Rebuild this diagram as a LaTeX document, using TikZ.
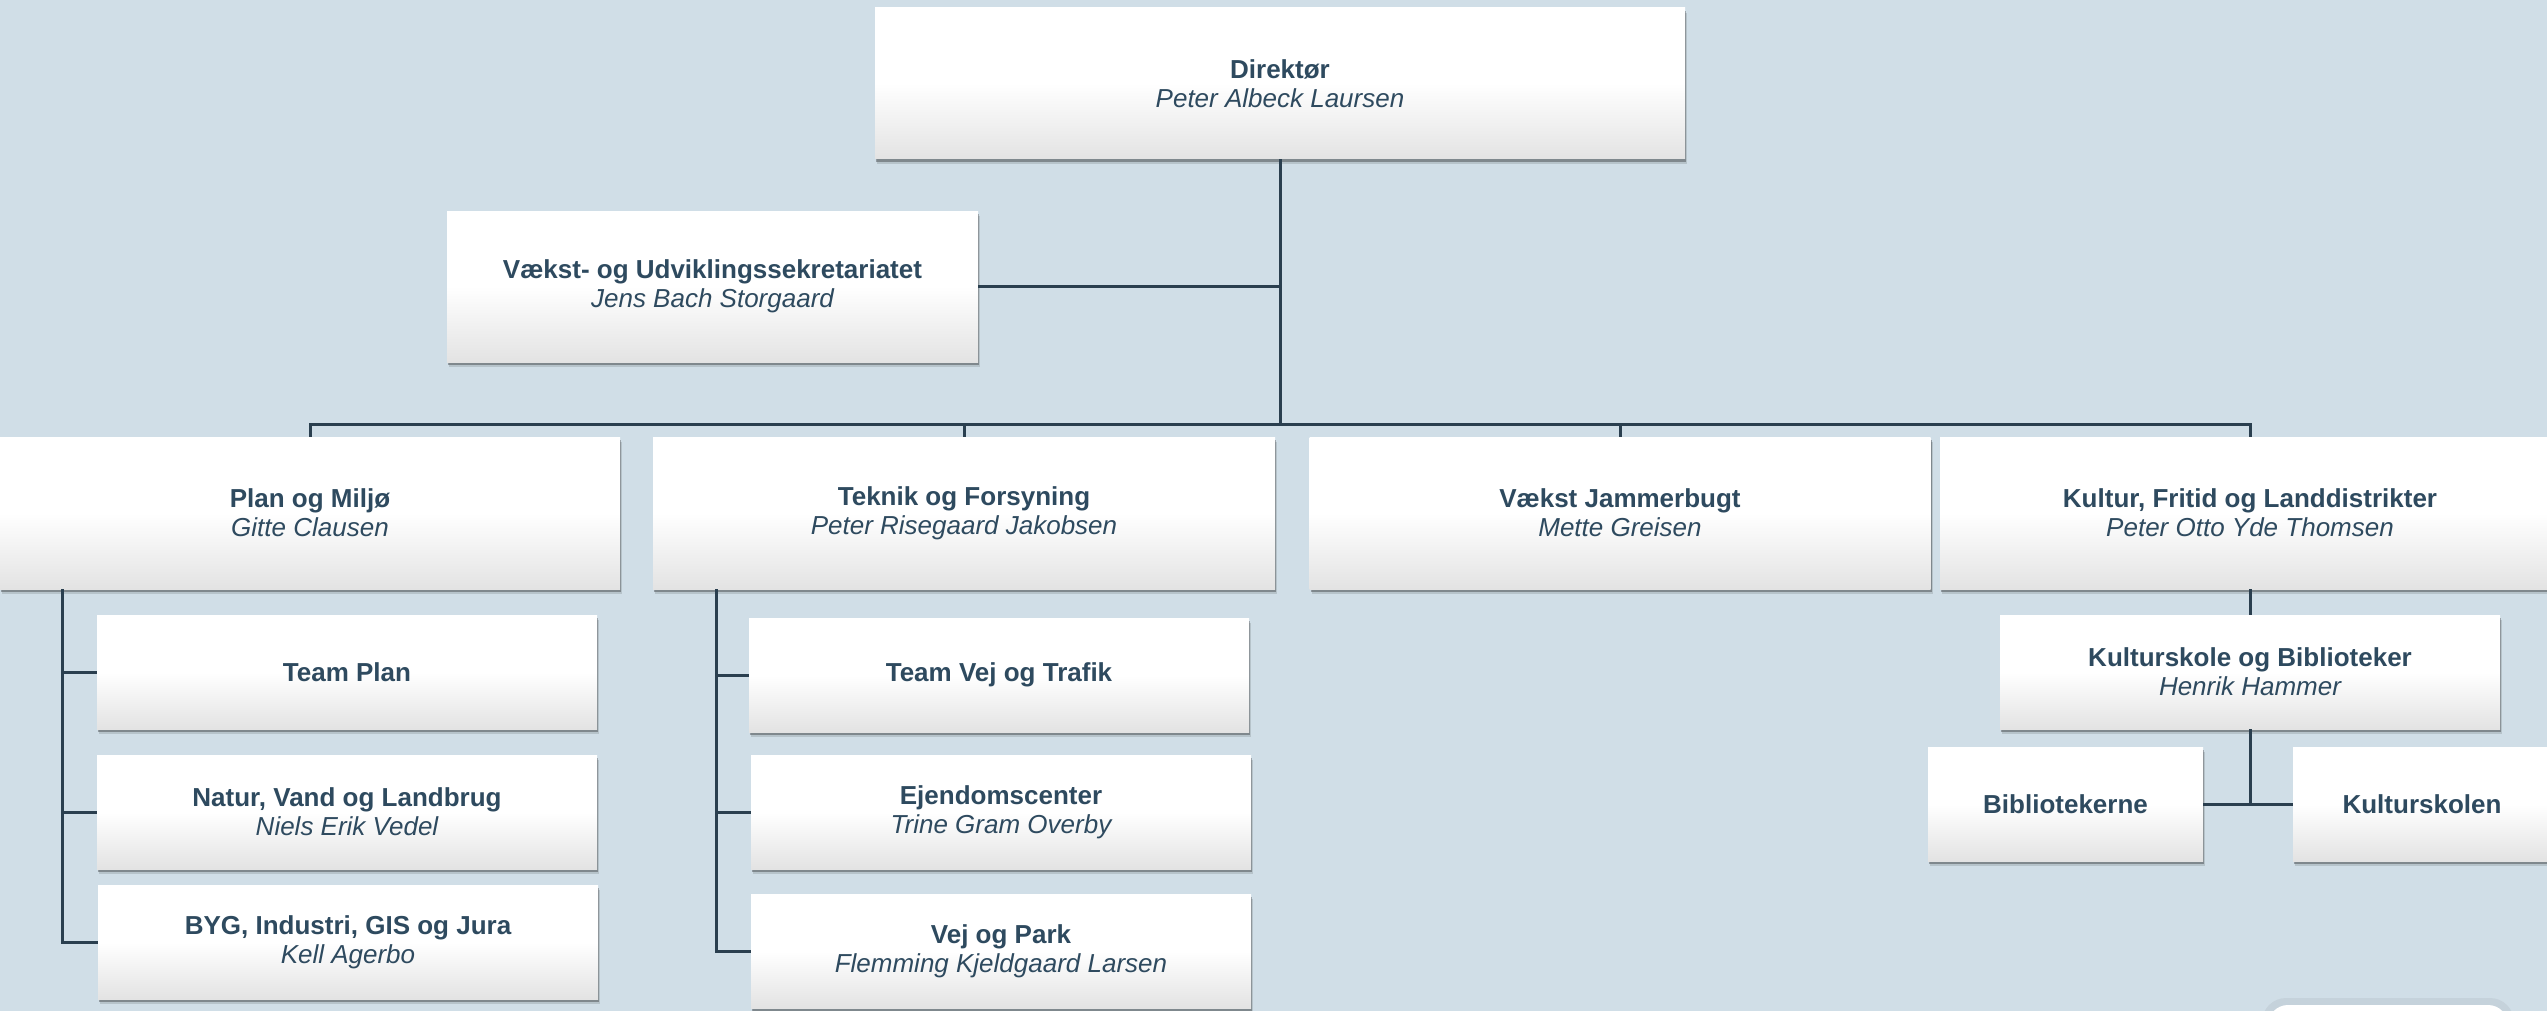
\documentclass[tikz,border=0pt]{standalone}
\usepackage{fontspec}
\setmainfont{Liberation Sans}
\usetikzlibrary{shadows}
\definecolor{bgc}{HTML}{D0DEE7}
\definecolor{txtc}{HTML}{2E4A5F}
\definecolor{linec}{HTML}{2A3F4F}
\tikzset{
  orgbox/.style={draw=none, top color=white, bottom color=black!11, middle color=white,
    drop shadow={shadow xshift=2pt, shadow yshift=-5pt, fill=black, opacity=0.12},
    drop shadow={shadow xshift=1pt, shadow yshift=-3pt, fill=black, opacity=0.3},
    text=txtc, align=center, inner sep=0pt,
    font=\fontsize{26}{29}\selectfont},
  bigbox/.style={orgbox, minimum width=#1, minimum height=152pt},
  smallbox/.style={orgbox, minimum width=#1, minimum height=114pt},
  conn/.style={draw=linec, line width=3pt}
}
\newcommand{\nm}[1]{{\bfseries #1}}
\newcommand{\pers}[1]{{\itshape #1}}
\begin{document}
\begin{tikzpicture}[x=1pt,y=-1pt]
\useasboundingbox (0,0) rectangle (2547,1011);
\fill[bgc] (0,0) rectangle (2547,1011);

% bottom-right partial shape
\fill[black, opacity=0.05, rounded corners=24pt] (2262,998) rectangle (2514,1060);
\fill[white, rounded corners=20pt] (2268,1005) rectangle (2508,1060);

\coordinate (busL) at (310,424);
\coordinate (busR) at (2250,424);
\coordinate (busM) at (1280,424);

\node[bigbox=810pt, minimum height=151pt] (dir) at (1280,83.5) {\nm{Direktør}\\\pers{Peter Albeck Laursen}};
\node[bigbox=531pt, minimum height=151pt] (sek) at (712.5,286.5) {\nm{Vækst- og Udviklingssekretariatet}\\\pers{Jens Bach Storgaard}};

\node[bigbox=620pt] (plan) at (310,513) {\nm{Plan og Miljø}\\\pers{Gitte Clausen}};
\node[bigbox=622pt] (tek) at (964,513) {\nm{Teknik og Forsyning}\\\pers{Peter Risegaard Jakobsen}};
\node[bigbox=621pt] (vj) at (1620,513) {\nm{Vækst Jammerbugt}\\\pers{Mette Greisen}};
\node[bigbox=620pt] (kul) at (2250,513) {\nm{Kultur, Fritid og Landdistrikter}\\\pers{Peter Otto Yde Thomsen}};

\node[smallbox=500pt] (tplan) at (347,672) {\nm{Team Plan}};
\node[smallbox=500pt] (natur) at (347,812) {\nm{Natur, Vand og Landbrug}\\\pers{Niels Erik Vedel}};
\node[smallbox=500pt] (byg) at (348,942) {\nm{BYG, Industri, GIS og Jura}\\\pers{Kell Agerbo}};

\node[smallbox=500pt] (tvej) at (999,675) {\nm{Team Vej og Trafik}};
\node[smallbox=500pt] (ejd) at (1001,812) {\nm{Ejendomscenter}\\\pers{Trine Gram Overby}};
\node[smallbox=500pt] (vejp) at (1001,951) {\nm{Vej og Park}\\\pers{Flemming Kjeldgaard Larsen}};

\node[smallbox=500pt] (kob) at (2250,672) {\nm{Kulturskole og Biblioteker}\\\pers{Henrik Hammer}};
\node[smallbox=275pt] (bib) at (2065.5,804) {\nm{Bibliotekerne}};
\node[smallbox=258pt] (kskol) at (2422,804) {\nm{Kulturskolen}};

% tree lines
\draw[conn] (dir.south) -- (busM);
\draw[conn] (sek.east) -- (sek.east -| busM);
\draw[conn] (plan.north) -- (busL) -- (busR) -- (kul.north);
\draw[conn] (tek.north) -- (tek.north |- busM);
\draw[conn] (vj.north) -- (vj.north |- busM);

\coordinate (pl) at (62,589);
\draw[conn] (pl) -- (pl |- byg.west) -- (byg.west);
\draw[conn] (pl |- tplan.west) -- (tplan.west);
\draw[conn] (pl |- natur.west) -- (natur.west);

\coordinate (tl) at (716,589);
\draw[conn] (tl) -- (tl |- vejp.west) -- (vejp.west);
\draw[conn] (tl |- tvej.west) -- (tvej.west);
\draw[conn] (tl |- ejd.west) -- (ejd.west);

\draw[conn] (kul.south) -- (kob.north);
\draw[conn] (kob.south) -- (kob.south |- bib.east);
\draw[conn] (bib.east) -- (kskol.west);
\end{tikzpicture}
\end{document}
